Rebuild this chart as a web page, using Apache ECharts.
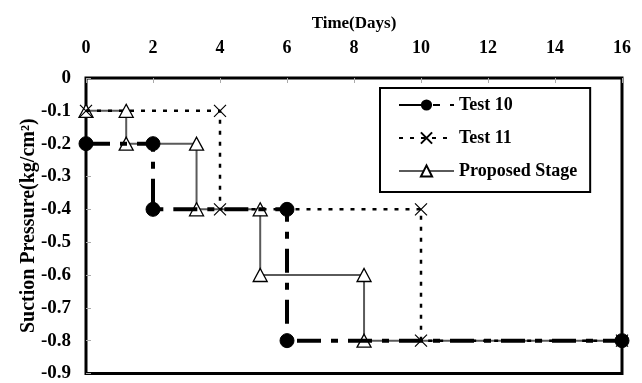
<!DOCTYPE html>
<html><head><meta charset="utf-8">
<script src="https://cdn.jsdelivr.net/npm/echarts@6/dist/echarts.min.js"></script>
<style>html,body{margin:0;padding:0;background:#fff}#c{width:642px;height:383px}</style>
</head><body><div id="c"></div>
<script>
const xTitle = 'Time(Days)';
const yTitle = 'Suction Pressure(kg/cm²)';
const seriesNames = ['Test 10', 'Test 11', 'Proposed Stage'];
const test10X = [0, 2, 2, 6, 6, 16];
const test10Y = [-0.2, -0.2, -0.4, -0.4, -0.8, -0.8];
const test11X = [0, 4, 4, 10, 10, 16];
const test11Y = [-0.1, -0.1, -0.4, -0.4, -0.8, -0.8];
const propX = [0, 1.2, 1.2, 3.3, 3.3, 5.2, 5.2, 8.3, 8.3, 16];
const propY = [-0.1, -0.1, -0.2, -0.2, -0.4, -0.4, -0.6, -0.6, -0.8, -0.8];

const pair = (xs, ys) => xs.map((x, i) => [x, ys[i]]);
const FONT = '"Liberation Serif", "Times New Roman", serif';
const xPath = 'path://M0,0L10,10M10,0L0,10';

const propData = pair(propX, propY).map((p, i, a) => i === a.length - 1 ? {value: p, symbol: 'none'} : p);

const chart = echarts.init(document.getElementById('c'));
chart.setOption({
  animation: false,
  backgroundColor: '#fff',
  textStyle: {fontFamily: FONT, fontWeight: 'bold', color: '#000'},
  grid: {left: 86, right: 20, top: 78, bottom: 8, show: true, borderColor: '#000', borderWidth: 3, backgroundColor: 'transparent'},
  xAxis: {
    type: 'value', position: 'top', min: 0, max: 16, interval: 2,
    name: xTitle, nameLocation: 'middle', nameGap: 46, nameMoveOverlap: false,
    nameTextStyle: {fontFamily: FONT, fontWeight: 'bold', fontSize: 17, color: '#000'},
    axisLine: {show: false},
    axisTick: {show: true, inside: true, length: 5, lineStyle: {color: '#aaa', width: 1}},
    axisLabel: {margin: 21, fontFamily: FONT, fontWeight: 'bold', fontSize: 18, color: '#000'},
    splitLine: {show: false}
  },
  yAxis: {
    type: 'value', min: -0.9, max: 0, interval: 0.1,
    name: yTitle, nameLocation: 'middle', nameGap: 47, nameRotate: 90, nameMoveOverlap: false,
    nameTextStyle: {fontFamily: FONT, fontWeight: 'bold', fontSize: 20, color: '#000'},
    axisLine: {show: false},
    axisTick: {show: true, inside: true, length: 5, lineStyle: {color: '#aaa', width: 1}},
    axisLabel: {margin: 15, fontFamily: FONT, fontWeight: 'bold', fontSize: 19, color: '#000',
      formatter: v => (Math.round(v * 10) / 10).toString()},
    splitLine: {show: false}
  },
  legend: {
    orient: 'vertical', left: 380, top: 88,
    data: seriesNames,
    itemWidth: 55, itemHeight: 14, itemGap: 15,
    padding: [8, 13, 12, 18],
    borderColor: '#000', borderWidth: 2, backgroundColor: '#fff',
    textStyle: {fontFamily: FONT, fontWeight: 'bold', fontSize: 18, color: '#000'}
  },
  series: [
    {
      name: seriesNames[2], type: 'line', z: 2, data: propData,
      symbol: 'triangle', symbolSize: [14, 13],
      lineStyle: {color: '#5a5a5a', width: 2, type: 'solid'},
      itemStyle: {color: '#fff', borderColor: '#000', borderWidth: 1.3}
    },
    {
      name: seriesNames[1], type: 'line', z: 3, data: pair(test11X, test11Y),
      symbol: xPath, symbolSize: 12,
      lineStyle: {color: '#000', width: 2.5, type: [4, 7]},
      itemStyle: {color: '#000', borderColor: '#000', borderWidth: 1.2}
    },
    {
      name: seriesNames[0], type: 'line', z: 4, data: pair(test10X, test10Y),
      symbol: 'circle', symbolSize: 14,
      lineStyle: {color: '#000', width: 4, type: [24, 10, 7, 10]},
      itemStyle: {color: '#000', borderColor: '#000'}
    }
  ]
});
</script></body></html>
